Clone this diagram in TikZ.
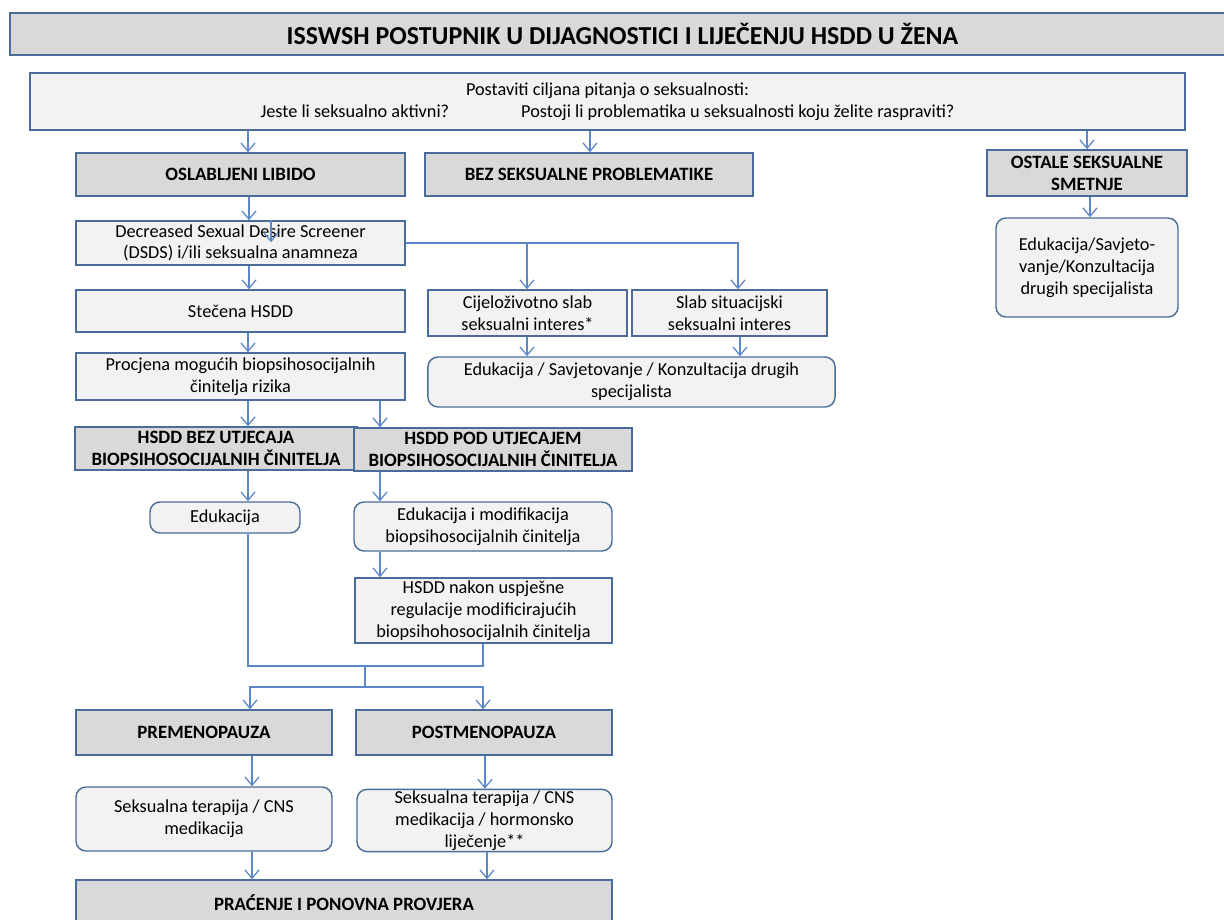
\documentclass[tikz,border=0pt]{standalone}
\usepackage{fontspec}
\setmainfont{Carlito}
\usepackage{tikz}
\usetikzlibrary{arrows.meta, positioning, calc}
\definecolor{boxedge}{HTML}{4A6C9B}
\definecolor{arrowblue}{HTML}{5B87C7}
\definecolor{darkfill}{HTML}{D9D9D9}
\definecolor{lightfill}{HTML}{F2F2F2}
\tikzset{
    heading/.style={
        rectangle,
        draw=boxedge,
        line width=1pt,
        fill=darkfill,
        align=center,
        inner sep=1pt,
        font=\fontsize{13.4}{15.5}\selectfont\bfseries
    },
    infobox/.style={
        rectangle,
        draw=boxedge,
        line width=1pt,
        fill=lightfill,
        align=center,
        inner sep=1pt,
        font=\fontsize{13}{15.5}\selectfont
    },
    roundbox/.style={
        infobox,
        rounded corners=0.25cm
    },
    wire/.style={
        draw=arrowblue,
        line width=0.9pt,
        -{Straight Barb[length=6pt,width=10pt]}
    },
    joinline/.style={
        draw=arrowblue,
        line width=0.9pt
    }
}
\begin{document}
\begin{tikzpicture}[x=0.025cm, y=-0.025cm]
\useasboundingbox (0,0) rectangle (1224,920);

% Title
\node[heading, minimum width=30.625cm, minimum height=1.05cm, font=\fontsize{18.4}{20}\selectfont\bfseries] (title) at (622.5,34) {ISSWSH POSTUPNIK U DIJAGNOSTICI I LIJEČENJU HSDD U ŽENA};

% Questions
\node[infobox, minimum width=28.875cm, minimum height=1.425cm] (qbox) at (607.5,101.5) {Postaviti ciljana pitanja o seksualnosti:\\Jeste li seksualno aktivni?\hspace{1.8cm}Postoji li problematika u seksualnosti koju želite raspraviti?};

% First level
\node[heading, minimum width=8.225cm, minimum height=1.075cm] (oslab) at (240.5,174.5) {OSLABLJENI LIBIDO};
\node[heading, minimum width=8.2cm, minimum height=1.075cm] (bez) at (589,174.5) {BEZ SEKSUALNE PROBLEMATIKE};
\node[heading, minimum width=5cm, minimum height=1.15cm] (ostale) at (1087,173) {OSTALE SEKSUALNE\\SMETNJE};
\node[roundbox, minimum width=4.55cm, minimum height=2.475cm] (eduost) at (1087,267.5) {Edukacija/Savjeto-\\vanje/Konzultacija\\drugih specijalista};

\draw[wire] (248,0 |- qbox.south) -- (248,0 |- oslab.north);
\draw[wire] (590,0 |- qbox.south) -- (590,0 |- bez.north);
\draw[wire] (1087,0 |- qbox.south) -- (ostale.north);
\draw[wire] (1090,0 |- ostale.south) -- (1090,0 |- eduost.north);

% Left column
\node[infobox, minimum width=8.225cm, minimum height=1.1cm] (dsds) at (240.5,243) {Decreased Sexual Desire Screener\\(DSDS) i/ili seksualna anamneza};
\node[infobox, minimum width=8.225cm, minimum height=1.05cm] (stec) at (240.5,311) {Stečena HSDD};
\node[infobox, minimum width=8.225cm, minimum height=1.175cm] (proc) at (240.5,376.5) {Procjena mogućih biopsihosocijalnih\\činitelja rizika};

\draw[wire] (249,0 |- oslab.south) -- (249,0 |- dsds.north);
\draw[wire] (271,0 |- dsds.north) -- ++(0,22);
\draw[wire] (249,0 |- dsds.south) -- (249,0 |- stec.north);
\draw[wire] (248,0 |- stec.south) -- (248,0 |- proc.north);

% Desire branches
\node[infobox, minimum width=4.975cm, minimum height=1.15cm] (cijel) at (527.5,313) {Cijeloživotno slab\\seksualni interes*};
\node[infobox, minimum width=4.875cm, minimum height=1.15cm] (slab) at (729.5,313) {Slab situacijski\\seksualni interes};
\node[roundbox, minimum width=10.175cm, minimum height=1.25cm] (edusav) at (631.5,382) {Edukacija / Savjetovanje / Konzultacija drugih\\specijalista};

\draw[wire] (dsds.east) -| (738,0 |- slab.north);
\draw[wire] (527,0 |- dsds.east) -- (527,0 |- cijel.north);
\draw[wire] (527,0 |- cijel.south) -- (527,0 |- edusav.north);
\draw[wire] (740,0 |- slab.south) -- (740,0 |- edusav.north);

% Biopsychosocial factors
\node[heading, minimum width=7.05cm, minimum height=1.075cm] (hbez) at (216,448.5) {HSDD BEZ UTJECAJA\\BIOPSIHOSOCIJALNIH ČINITELJA};
\node[heading, minimum width=6.95cm, minimum height=1.075cm] (hpod) at (493,449.5) {HSDD POD UTJECAJEM\\BIOPSIHOSOCIJALNIH ČINITELJA};
\node[roundbox, minimum width=3.75cm, minimum height=0.775cm] (edu) at (225,517.5) {Edukacija};
\node[roundbox, minimum width=6.45cm, minimum height=1.225cm] (edumod) at (483,526.5) {Edukacija i modifikacija\\biopsihosocijalnih činitelja};
\node[infobox, minimum width=6.425cm, minimum height=1.625cm] (nakon) at (483.5,610.5) {HSDD nakon uspješne\\regulacije modificirajućih\\biopsihohosocijalnih činitelja};

\draw[wire] (248,0 |- proc.south) -- (248,0 |- hbez.north);
\draw[wire] (380,0 |- proc.south) -- (380,0 |- hpod.north);
\draw[wire] (248,0 |- hbez.south) -- (248,0 |- edu.north);
\draw[wire] (380,0 |- hpod.south) -- (380,0 |- edumod.north);
\draw[wire] (380,0 |- edumod.south) -- (380,0 |- nakon.north);

% Merge and split
\coordinate (merge) at (365,666);
\coordinate (split) at (365,687);
\draw[joinline] (248,0 |- edu.south) |- (merge) -| (483,0 |- nakon.south);
\draw[joinline] (merge) -- (split);

% Menopause
\node[heading, minimum width=6.4cm, minimum height=1.125cm] (premeno) at (204,732.5) {PREMENOPAUZA};
\node[heading, minimum width=6.4cm, minimum height=1.125cm] (postmeno) at (484,732.5) {POSTMENOPAUZA};
\node[roundbox, minimum width=6.4cm, minimum height=1.6cm] (terpre) at (204,819) {Seksualna terapija / CNS\\medikacija};
\node[roundbox, minimum width=6.375cm, minimum height=1.525cm] (terpost) at (484.5,820.5) {Seksualna terapija / CNS\\medikacija / hormonsko\\liječenje**};
\node[heading, minimum width=13.4cm, minimum height=1.15cm] (pracenje) at (344,903) {PRAĆENJE I PONOVNA PROVJERA};

\draw[wire] (split) -| (250,0 |- premeno.north);
\draw[wire] (split) -| (483,0 |- postmeno.north);
\draw[wire] (252,0 |- premeno.south) -- (252,0 |- terpre.north);
\draw[wire] (485,0 |- postmeno.south) -- (485,0 |- terpost.north);
\draw[wire] (252,0 |- terpre.south) -- (252,0 |- pracenje.north);
\draw[wire] (487,0 |- terpost.south) -- (487,0 |- pracenje.north);

\end{tikzpicture}
\end{document}
